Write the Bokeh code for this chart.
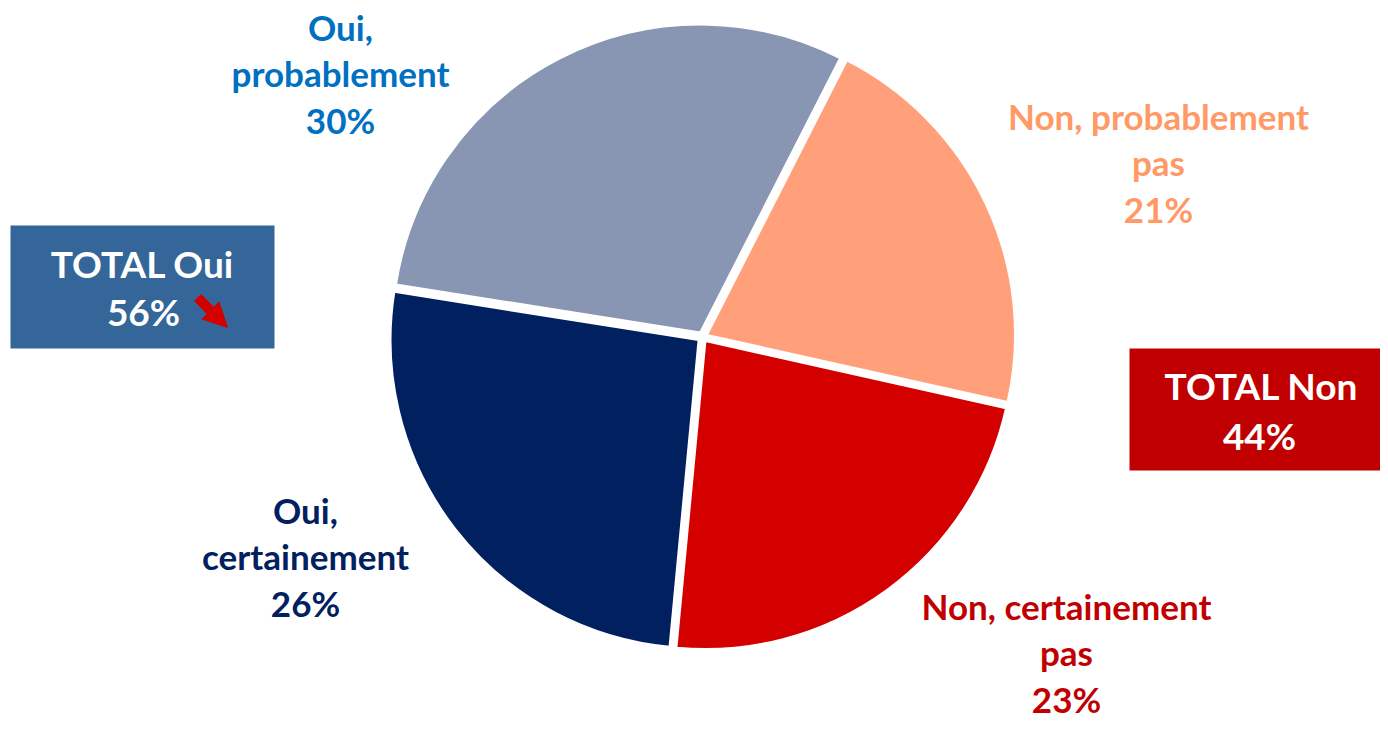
import math
from bokeh.plotting import figure
from bokeh.models import Range1d, Arrow, NormalHead, ColumnDataSource
from bokeh.core.properties import value
from bokeh.embed import file_html
from bokeh.resources import INLINE

# ---- data ----
categories = ["Non, probablement pas", "Non, certainement pas", "Oui, certainement", "Oui, probablement"]
values = [21, 23, 26, 30]
slice_colors = ["#FFA07A", "#D40000", "#00205F", "#8896B3"]
label_texts = ["Non, probablement\npas\n21%", "Non, certainement\npas\n23%",
               "Oui,\ncertainement\n26%", "Oui,\nprobablement\n30%"]
label_colors = ["#FF9966", "#C00000", "#002060", "#0070C0"]
total_names = ["TOTAL Oui", "TOTAL Non"]
total_values = [56, 44]
total_colors = ["#346699", "#C00000"]

# ---- layout ----
W, H = 1380, 729
def Y(sy):
    return H - sy

FONT = value("Lato")
p = figure(width=W, height=H, x_range=Range1d(0, W), y_range=Range1d(0, H),
           output_backend="svg", toolbar_location=None, min_border=0)
p.axis.visible = False
p.grid.visible = False
p.outline_line_color = None
p.background_fill_color = "white"

cx, cy, r, d = 702, Y(336.5), 308, 5
a0 = math.radians(90 - 27)
total = sum(values)
starts, ends, xs, ys = [], [], [], []
cum = 0
for v in values:
    s = a0 - 2 * math.pi * cum / total
    e = s - 2 * math.pi * v / total
    m = (s + e) / 2
    starts.append(s); ends.append(e)
    xs.append(cx + d * math.cos(m)); ys.append(cy + d * math.sin(m))
    cum += v

src = ColumnDataSource(dict(x=xs, y=ys, start=starts, end=ends, color=slice_colors, cat=categories))
p.wedge(x="x", y="y", radius=r, start_angle="start", end_angle="end", direction="clock",
        fill_color="color", line_color="white", line_width=2, source=src)

# slice labels (x center, y of middle line)
lab_x = [1158, 1066, 305, 340]
lab_y = [Y(162), Y(652), Y(556), Y(73)]
p.text(x=lab_x, y=lab_y, text=label_texts, text_color=label_colors,
       text_font=FONT, text_font_style="bold", text_font_size="35px",
       text_align="center", text_baseline="middle", text_line_height=1.1)

# total boxes
box_l = [10, 1129]; box_r = [274, 1388]
box_t = [Y(225), Y(348)]; box_b = [Y(348), Y(470)]
p.quad(left=box_l, right=box_r, top=box_t, bottom=box_b, fill_color=total_colors, line_color=None)

tx = [142, 1261]
ty1 = [Y(263), Y(385)]
ty2 = [Y(311), Y(435)]
p.text(x=tx, y=ty1, text=total_names, text_color="white", text_font=FONT,
       text_font_style="bold", text_font_size="37px", text_align="center", text_baseline="middle")
p.text(x=[143, 1259], y=ty2, text=[f"{v}%" for v in total_values], text_color="white", text_font=FONT,
       text_font_style="bold", text_font_size="37px", text_align="center", text_baseline="middle")

# down arrow (trend) next to TOTAL Oui
p.add_layout(Arrow(end=NormalHead(fill_color="#D40000", line_color="#D40000", size=24),
                   x_start=197, y_start=Y(297), x_end=227, y_end=Y(327),
                   line_color="#D40000", line_width=10))

open("out.html", "w").write(file_html(p, INLINE))
